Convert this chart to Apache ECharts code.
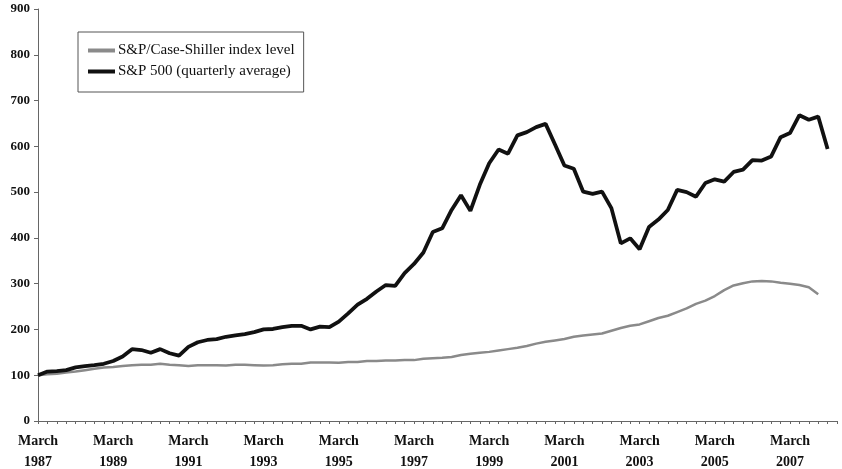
<!DOCTYPE html>
<html>
<head>
<meta charset="utf-8">
<script src="https://cdn.jsdelivr.net/npm/echarts@6/dist/echarts.min.js"></script>
<style>
html,body{margin:0;padding:0;background:#fff;}
#chart{width:842px;height:469px;}
</style>
</head>
<body>
<div id="chart"></div>
<script>
// Quarter names and years used to build the category axis
const quarterNames = ['March', 'June', 'September', 'December'];
const years = [1987, 1988, 1989, 1990, 1991, 1992, 1993, 1994, 1995, 1996, 1997,
  1998, 1999, 2000, 2001, 2002, 2003, 2004, 2005, 2006, 2007, 2008];
const categoryCount = 86;

// Series values (index, March 1987 = 100)
const caseShiller = [100, 102, 103, 106, 108, 111, 114, 117, 118, 120, 122, 123, 123, 125, 123, 122,
  120, 122, 122, 122, 121, 123, 123, 122, 121, 122, 124, 125, 125, 128, 128, 128,
  127, 129, 129, 131, 131, 132, 132, 133, 133, 136, 137, 138, 140, 144, 147, 149,
  151, 154, 157, 160, 164, 169, 173, 176, 179, 184, 187, 189, 191, 197, 203, 208,
  211, 218, 225, 230, 238, 246, 256, 263, 273, 286, 296, 301, 305, 306, 305, 302,
  300, 297, 292, 277];
const sp500 = [100, 108, 109, 111, 117, 120, 122, 125, 131, 141, 157, 155, 149, 157, 148, 143,
  162, 172, 177, 179, 184, 187, 190, 194, 200, 201, 205, 208, 208, 200, 206, 205,
  217, 235, 254, 267, 283, 297, 295, 323, 343, 368, 413, 421, 461, 493, 459, 516,
  563, 593, 584, 624, 631, 642, 649, 604, 558, 551, 501, 496, 501, 465, 388, 399,
  375, 424, 440, 461, 505, 500, 490, 520, 528, 523, 544, 549, 570, 569, 578, 620,
  629, 668, 658, 665, 594];

// Y axis ticks
const yTicks = [0, 100, 200, 300, 400, 500, 600, 700, 800, 900];

const categories = [];
for (const y of years) {
  for (const q of quarterNames) {
    if (categories.length < categoryCount) categories.push(q + ' ' + y);
  }
}

const serif = '"Liberation Serif", "DejaVu Serif", serif';
const chart = echarts.init(document.getElementById('chart'), null, {renderer: 'canvas'});
chart.setOption({
  backgroundColor: '#fff',
  animation: false,
  grid: {left: 38, right: 5, top: 9, bottom: 48, containLabel: false, outerBoundsMode: 'none'},
  legend: {
    orient: 'vertical',
    left: 78,
    top: 32,
    padding: [11, 9, 13, 10],
    itemGap: 6,
    itemWidth: 27,
    itemHeight: 4,
    icon: 'rect',
    borderColor: '#555',
    borderWidth: 1,
    textStyle: {fontFamily: serif, fontSize: 15, color: '#111', padding: [0, 0, 0, -2]},
    data: ['S&P/Case-Shiller index level', 'S&P 500 (quarterly average)']
  },
  xAxis: {
    type: 'category',
    data: categories,
    boundaryGap: false,
    axisLine: {lineStyle: {color: '#666', width: 1}},
    axisTick: {interval: 0, length: 3, lineStyle: {color: '#666'}},
    axisLabel: {
      interval: 7,
      margin: 10,
      fontFamily: serif,
      fontSize: 14,
      fontWeight: 'bold',
      color: '#111',
      lineHeight: 21,
      formatter: function (v) { const p = v.split(' '); return p[0] + '\n' + p[1]; }
    },
    splitLine: {show: false}
  },
  yAxis: {
    type: 'value',
    min: yTicks[0],
    max: yTicks[yTicks.length - 1],
    interval: yTicks[1] - yTicks[0],
    axisLine: {show: true, lineStyle: {color: '#666', width: 1}},
    axisTick: {show: true, length: 4, lineStyle: {color: '#666'}},
    axisLabel: {fontFamily: serif, fontSize: 13, fontWeight: 'bold', color: '#111', margin: 8},
    splitLine: {show: false}
  },
  series: [
    {
      name: 'S&P/Case-Shiller index level',
      type: 'line',
      data: caseShiller,
      showSymbol: false,
      symbol: 'none',
      lineStyle: {color: '#8a8a8a', width: 2.5},
      itemStyle: {color: '#8a8a8a'},
      z: 2
    },
    {
      name: 'S&P 500 (quarterly average)',
      type: 'line',
      data: sp500,
      showSymbol: false,
      symbol: 'none',
      lineStyle: {color: '#111', width: 3.8},
      itemStyle: {color: '#111'},
      z: 3
    }
  ]
});
</script>
</body>
</html>
